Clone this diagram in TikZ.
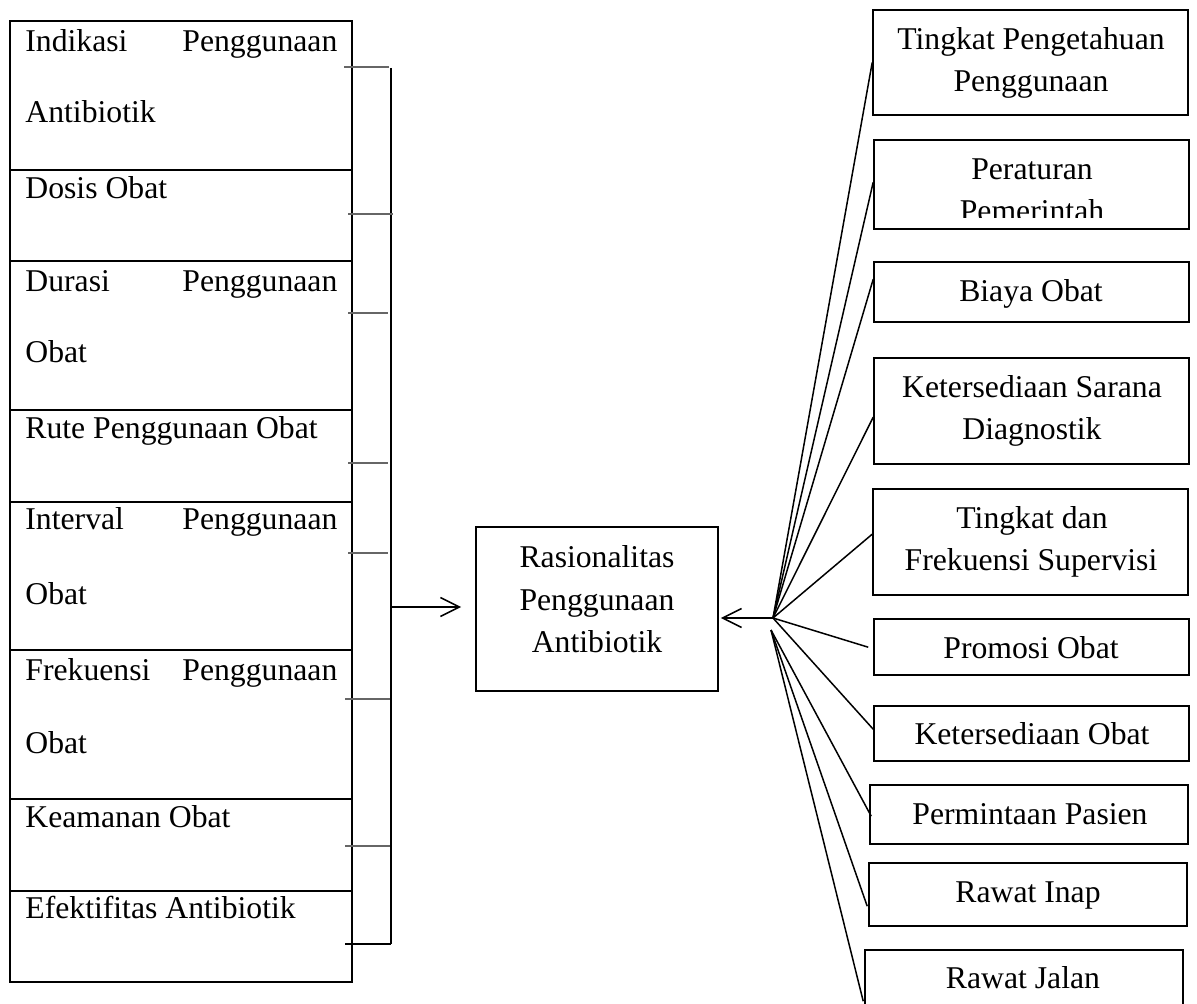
\documentclass[tikz,border=0pt]{standalone}
\usepackage{fontspec}
\setmainfont{Liberation Serif}
\usetikzlibrary{fit,calc,arrows.meta}
\tikzset{
  lbox/.style={draw, line width=0.95pt, inner sep=0pt},
  rbox/.style={draw, line width=0.8pt, inner sep=0pt},
  txt/.style={inner sep=0pt, font=\fontsize{15.85pt}{20pt}\selectfont},
  ltxt/.style={txt, anchor=base west},
  ctxt/.style={txt, anchor=base},
  tick/.style={draw=black!60, line width=0.65pt},
  brk/.style={draw, line width=0.6pt},
  fan/.style={draw, line width=0.75pt},
  arr/.style={draw, line width=0.8pt, -{Straight Barb[length=9.5pt,width=9.5pt]}}
}
\newcommand{\jline}[2]{\hbox to 156pt{#1\hfill #2}}
\begin{document}
\begin{tikzpicture}[x=0.5pt,y=-0.5pt]
\clip (0,0) rectangle (1197,1004);
% ---------- left column ----------
\node[lbox, fit={(10,21) (352,170)}] (l1) {};
\node[lbox, fit={(10,170) (352,261)}] (l2) {};
\node[lbox, fit={(10,261) (352,410)}] (l3) {};
\node[lbox, fit={(10,410) (352,502)}] (l4) {};
\node[lbox, fit={(10,502) (352,650)}] (l5) {};
\node[lbox, fit={(10,650) (352,799)}] (l6) {};
\node[lbox, fit={(10,799) (352,891)}] (l7) {};
\node[lbox, fit={(10,891) (352,982)}] (l8) {};
\node[ltxt] (l1a) at (25,52) {\jline{Indikasi}{Penggunaan}};
\node[ltxt] (l1b) at (25,123) {Antibiotik};
\node[ltxt] (l2a) at (25,199) {Dosis Obat};
\node[ltxt] (l3a) at (25,292) {\jline{Durasi}{Penggunaan}};
\node[ltxt] (l3b) at (25,363) {Obat};
\node[ltxt] (l4a) at (25,439) {Rute Penggunaan Obat};
\node[ltxt] (l5a) at (25,530) {\jline{Interval}{Penggunaan}};
\node[ltxt] (l5b) at (25,604) {Obat};
\node[ltxt] (l6a) at (25,680) {\jline{Frekuensi}{Penggunaan}};
\node[ltxt] (l6b) at (25,753) {Obat};
\node[ltxt] (l7a) at (25,827) {Keamanan Obat};
\node[ltxt] (l8a) at (25,918) {Efektifitas Antibiotik};
% ---------- bracket ----------
\coordinate (bt) at (391,68);
\coordinate (bb) at (391,944);
\coordinate (ba) at (391,607);
\draw[brk] (bt) -- (bb);
\draw[tick] (344,67) -- (389,67);
\draw[tick] (348,214) -- (393,214);
\draw[tick] (348,313) -- (388,313);
\draw[tick] (348,463) -- (388,463);
\draw[tick] (348,553) -- (388,553);
\draw[tick] (345,699) -- (390,699);
\draw[tick] (345,846) -- (390,846);
\draw[line width=0.9pt] (345,944) -- (bb);
% ---------- centre ----------
\node[rbox, fit={(476,527) (718,691)}] (c) {};
\node[ctxt] (c1) at (597,567) {Rasionalitas};
\node[ctxt] (c2) at (597,610) {Penggunaan};
\node[ctxt] (c3) at (597,652) {Antibiotik};
\draw[arr] (ba) -- ($(c.west |- ba)+(-14,0)$);
% ---------- right column ----------
\node[rbox, fit={(873,10) (1188,115)}] (r1) {};
\node[rbox, fit={(874,140) (1189,229)}] (r2) {};
\node[rbox, fit={(874,262) (1189,322)}] (r3) {};
\node[rbox, fit={(874,358) (1189,464)}] (r4) {};
\node[rbox, fit={(873,489) (1188,595)}] (r5) {};
\node[rbox, fit={(874,619) (1189,675)}] (r6) {};
\node[rbox, fit={(874,706) (1189,761)}] (r7) {};
\node[rbox, fit={(870,785) (1188,844)}] (r8) {};
\node[rbox, fit={(869,863) (1187,926)}] (r9) {};
\node[rbox, fit={(865,950) (1183,1040)}] (r10) {};
\node[ctxt] (r1a) at (1031,50) {Tingkat Pengetahuan};
\node[ctxt] (r1b) at (1031,92) {Penggunaan};
\node[ctxt] (r2a) at (1032,180) {Peraturan};
\begin{scope}
\clip (874,140) rectangle (1189,218);
\node[ctxt] (r2b) at (1032,222) {Pemerintah};
\end{scope}
\node[ctxt] (r3a) at (1031,302) {Biaya Obat};
\node[ctxt] (r4a) at (1032,398) {Ketersediaan Sarana};
\node[ctxt] (r4b) at (1032,440) {Diagnostik};
\node[ctxt] (r5a) at (1032,528) {Tingkat dan};
\node[ctxt] (r5b) at (1031,570) {Frekuensi Supervisi};
\node[ctxt] (r6a) at (1031,658) {Promosi Obat};
\node[ctxt] (r7a) at (1032,744) {Ketersediaan Obat};
\node[ctxt] (r8a) at (1030,824) {Permintaan Pasien};
\node[ctxt] (r9a) at (1028,902) {Rawat Inap};
\node[ctxt] (r10a) at (1023,988) {Rawat Jalan};
% ---------- fan ----------
\coordinate (hub) at (773,618);
\coordinate (hub2) at (771,630);
\draw[arr] (hub) -- ($(c.east |- hub)+(2,0)$);
\draw[fan] (hub) -- (r1.west);
\draw[fan] (hub) -- ($(r2.north west)+(0,43)$);
\draw[fan] (hub) -- ($(r3.north west)+(0,18)$);
\draw[fan] (hub) -- ($(r4.north west)+(0,60)$);
\draw[fan] (hub) -- ($(r5.north west)+(0,46)$);
\draw[fan] (hub) -- ($(r6.north west)+(-5,29)$);
\draw[fan] (hub) -- ($(r7.north west)+(0,24)$);
\draw[fan] (hub2) -- ($(r8.north west)+(2,32)$);
\draw[fan] (hub2) -- ($(r9.north west)+(-1,44)$);
\draw[fan] (hub2) -- ($(r10.north west)+(-1,52)$);
\end{tikzpicture}
\end{document}
